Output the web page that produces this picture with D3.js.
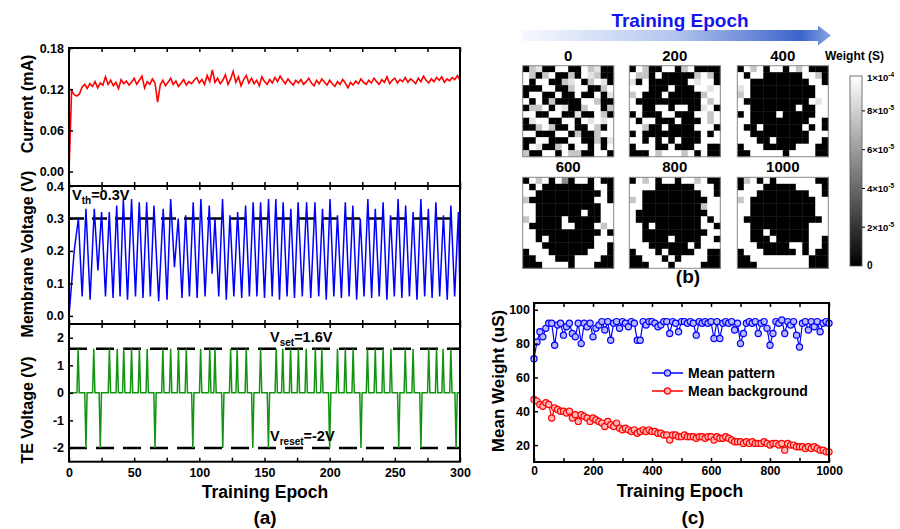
<!DOCTYPE html>
<html>
<head>
<meta charset="utf-8">
<script src="https://cdn.jsdelivr.net/npm/d3@7"></script>
<style>
body { margin: 0; background: #fff; }
text { font-family: "Liberation Sans", Arial, sans-serif; font-weight: bold; }
</style>
</head>
<body>
<svg id="fig" width="900" height="529"></svg>
<script>
// ---------- panel (a) data ----------
// current (mA), one value every 2 epochs from 0 to 300
const currentVals = [
  0.000,0.118,0.112,0.110,0.113,0.123,0.127,0.121,0.128,0.124,
  0.131,0.122,0.129,0.126,0.138,0.127,0.133,0.125,0.130,0.121,
  0.134,0.128,0.132,0.126,0.130,0.136,0.127,0.133,0.139,0.122,
  0.131,0.127,0.135,0.129,0.101,0.126,0.133,0.125,0.130,0.136,
  0.127,0.132,0.124,0.129,0.134,0.126,0.131,0.128,0.133,0.137,
  0.129,0.134,0.127,0.140,0.131,0.148,0.130,0.136,0.128,0.133,
  0.141,0.127,0.135,0.146,0.130,0.138,0.125,0.134,0.140,0.129,
  0.136,0.128,0.133,0.125,0.138,0.131,0.127,0.134,0.129,0.137,
  0.131,0.139,0.133,0.128,0.135,0.130,0.126,0.133,0.129,0.134,
  0.127,0.131,0.136,0.129,0.125,0.133,0.128,0.135,0.130,0.126,
  0.133,0.128,0.124,0.131,0.127,0.134,0.129,0.122,0.130,0.126,
  0.132,0.128,0.135,0.130,0.127,0.133,0.129,0.136,0.131,0.127,
  0.134,0.130,0.138,0.128,0.133,0.136,0.129,0.134,0.131,0.137,
  0.130,0.135,0.132,0.128,0.136,0.131,0.139,0.133,0.129,0.135,
  0.131,0.137,0.133,0.138,0.130,0.135,0.132,0.137,0.134,0.140,
  0.133
];
const currentStep = 2;

// membrane voltage (V): turning points [epoch, value]
const memPts = [
  [0,0.00],[1,0.05],[4,0.20],[7.2,0.30],[10.1,0.06],[13,0.33],[16.2,0.05],[19.4,0.33],
  [22.2,0.14],[25,0.32],[28,0.06],[30.9,0.32],[33.8,0.055],[36.6,0.34],[39.2,0.06],
  [41.7,0.36],[44.9,0.05],[48,0.36],[51,0.06],[53.9,0.35],[56.8,0.055],[59.6,0.35],
  [62.4,0.06],[65.2,0.34],[68.8,0.045],[72.3,0.33],[75.2,0.05],[78,0.36],[80.9,0.15],
  [83.8,0.30],[86.7,0.055],[89.5,0.31],[92.4,0.06],[95.3,0.35],[98.3,0.055],[101.2,0.36],
  [104.4,0.06],[107.6,0.34],[109.8,0.13],[112,0.30],[114.9,0.06],[117.8,0.36],[120.7,0.05],
  [123.5,0.31],[126.5,0.06],[129.4,0.32],[132.5,0.055],[135.5,0.34],[138.4,0.06],
  [141.3,0.35],[144.2,0.06],[147,0.35],[150,0.055],[153.1,0.36],[155.9,0.06],[158.7,0.36],
  [161.5,0.05],[164.3,0.35],[167.3,0.06],[170.2,0.33],[173,0.055],[175.8,0.35],[179,0.06],
  [182.3,0.35],[185.5,0.055],[188.7,0.35],[191.6,0.06],[194.5,0.33],[197.4,0.05],
  [200.3,0.36],[203.2,0.06],[206,0.31],[209,0.055],[212,0.35],[214.9,0.06],[217.8,0.34],
  [220.7,0.05],[223.5,0.30],[226.4,0.06],[229.3,0.36],[232.2,0.055],[235,0.33],[238,0.06],
  [241,0.35],[243.9,0.05],[246.7,0.31],[249.6,0.06],[252.5,0.36],[255.4,0.055],[258.3,0.34],
  [261.2,0.06],[264,0.32],[267,0.05],[270,0.36],[272.9,0.06],[275.7,0.33],[278.6,0.055],
  [281.5,0.35],[284.4,0.06],[287.3,0.31],[290.2,0.05],[293,0.34],[295.9,0.06],[298.8,0.32],
  [300,0.06]
];
const vth = 0.3;

// TE voltage: epochs of set pulses (1.6 V) and reset pulses (-2 V)
const setEpochs = [7,19,31,37,42,48,54,60,72,78,84,90,101,108,112,124,129,136,147,159,164,
  170,176,182,189,194,206,212,218,229,235,241,247,258,264,276,282,287,293];
const resetEpochs = [13,24,66,95,118,141,153,200,224,253,270,297];
const vset = 1.6, vreset = -2;

// ---------- panel (b) data ----------
const gridEpochs = ["0","200","400","600","800","1000"];
// 14x14 weights, digit d -> d/9 * 1e-4 S
const grid0 = [
  "07800990097800","97079007098700","90990078907980","00099007990079",
  "09900900900908","90907000099700","07790980079907","99009900800970",
  "08990099098989","00797009009709","99000990700799","00990009900708",
  "09800790990909","70099097700990"];
const grid200 = [
  "09700990790000","97709000007970","80900000098990","99900090009989",
  "79000900000799","90000000000979","99009909900890","09000990009979",
  "90990009000979","99700900009990","09000000000909","99090909000999",
  "09990090009900","00097999790900"];
const grid400 = [
  "09790990979000","90990000009970","99000000000990","89000000000099",
  "79000000000099","90000000000989","99000000090099","09000090000099",
  "99000000000990","90090000009090","99000000000999","99900900000990",
  "09990000099900","00999990999900"];
const grid600 = [
  "09790950990900","90900000000990","99000000000090","70000000000990",
  "99000000000099","99000000090099","79000090000099","90000099000979",
  "99000000000090","99090000000999","99900000000990","09990000009990",
  "00999000999900","00099990999000"];
const grid800 = [
  "09790990997900","99990000009990","99000000000990","79000000000099",
  "99000000000799","90000000000099","90000000000909","99090000000990",
  "99000000000099","99000090000990","99900000090999","09990900009900",
  "00999090999900","00099909999000"];
const grid1000 = [
  "07909099999900","09990000099990","99900000000990","79000000000099",
  "99000000000099","99000000000099","90000000000009","99000000000999",
  "99009000000999","99000900000990","99900000990990","09990000090900",
  "00999999999000","00099999999000"];
const cbTicks = [2e-5, 4e-5, 6e-5, 8e-5];

// ---------- panel (c) data ----------
const weightEpochs = d3.range(0, 1001, 10);
const meanPattern = [
  71,81,87,84,89,92,92,79,91,92, 85,90,92,86,84,92,80,92,90,92,
  84,89,91,93,88,93,82,92,93,89, 93,92,90,93,92,82,82,93,91,93,
  93,92,90,91,93,93,86,93,92,87, 93,93,92,93,92,85,93,92,93,92,
  93,83,93,83,92,93,92,93,88,92, 80,86,92,93,92,93,86,92,93,89,
  79,86,93,92,94,86,93,91,93,85, 78,92,93,88,93,90,93,87,92,93,
  92];
const meanBackground = [
  47,46,44,43,45,44,36,42,41,40, 40,39,40,36,38,34,38,37,36,34,
  36,35,34,33,31,34,32,31,33,30, 29,30,29,28,29,27,28,29,28,29,
  28,28,27,27,26,26,23,26,26,25, 25,26,25,25,25,24,25,25,24,25,
  25,23,25,24,24,25,24,23,22,22, 22,21,22,21,22,21,21,21,22,21,
  20,21,21,20,21,17,21,20,20,19, 19,19,18,19,18,19,18,17,17,16,
  16];

// ---------------------------------------------------------------
const svg = d3.select("#fig");
svg.append("rect").attr("width", 900).attr("height", 529).attr("fill", "#fff");
const FONT = "Liberation Sans, Arial, sans-serif";

function styleAxis(g, fs) {
  g.attr("font-family", FONT).attr("font-size", fs).attr("font-weight", "bold");
  g.select(".domain").remove();
  g.selectAll("line").attr("stroke", "#000").attr("stroke-width", 1.5);
  g.selectAll("text").attr("fill", "#000");
}

// ---------- panel (a) ----------
const xA = d3.scaleLinear().domain([0, 300]).range([69, 460]);
const subs = [
  {y: d3.scaleLinear().domain([-0.021, 0.18]).range([186, 48]), ticks: [0, 0.06, 0.12, 0.18],
   fmt: d3.format(".2f"), label: "Current (mA)", ly: 104},
  {y: d3.scaleLinear().domain([-0.025, 0.4]).range([324, 186]), ticks: [0, 0.1, 0.2, 0.3, 0.4],
   fmt: d3.format(".1f"), label: "Membrane Voltage (V)", ly: 254},
  {y: d3.scaleLinear().domain([-2.5, 2.5]).range([461.7, 324]), ticks: [-2, -1, 0, 1, 2],
   fmt: d => String(d), label: "TE Voltage (V)", ly: 410}
];
const xTicksA = d3.range(0, 301, 25);

// data lines
const curPts = currentVals.map((v, i) => [i * currentStep, v]);
svg.append("path")
  .attr("d", d3.line().x(d => xA(d[0])).y(d => subs[0].y(d[1]))(curPts))
  .attr("fill", "none").attr("stroke", "#ff0000").attr("stroke-width", 1.6);

svg.append("line")
  .attr("x1", xA(0)).attr("x2", xA(300))
  .attr("y1", subs[1].y(vth)).attr("y2", subs[1].y(vth))
  .attr("stroke", "#000").attr("stroke-width", 2.5).attr("stroke-dasharray", "15,8");
svg.append("path")
  .attr("d", d3.line().x(d => xA(d[0])).y(d => subs[1].y(d[1]))(memPts))
  .attr("fill", "none").attr("stroke", "#0000ff").attr("stroke-width", 1.5);

[vset, vreset].forEach(v => {
  svg.append("line")
    .attr("x1", xA(0)).attr("x2", xA(300))
    .attr("y1", subs[2].y(v)).attr("y2", subs[2].y(v))
    .attr("stroke", "#000").attr("stroke-width", 2.5).attr("stroke-dasharray", "18,9");
});
const teEvents = setEpochs.map(e => [e, vset]).concat(resetEpochs.map(e => [e, vreset]))
  .sort((a, b) => a[0] - b[0]);
const tePts = [[0, 0]];
teEvents.forEach(ev => { tePts.push([ev[0] - 0.9, 0], ev, [ev[0] + 0.9, 0]); });
tePts.push([300, 0]);
svg.append("path")
  .attr("d", d3.line().x(d => xA(d[0])).y(d => subs[2].y(d[1]))(tePts))
  .attr("fill", "none").attr("stroke", "#129412").attr("stroke-width", 1.5);

subs.forEach((s, k) => {
  const [yb, yt] = s.y.range();
  let g = svg.append("g").attr("transform", `translate(${xA(0)},0)`)
    .call(d3.axisLeft(s.y).tickValues(s.ticks).tickFormat(s.fmt).tickSize(-4).tickPadding(5));
  styleAxis(g, 12.5);
  g = svg.append("g").attr("transform", `translate(0,${yt})`)
    .call(d3.axisTop(xA).tickValues(xTicksA).tickSize(-4).tickFormat(""));
  styleAxis(g, 12);
  g = svg.append("g").attr("transform", `translate(0,${yb})`)
    .call(d3.axisBottom(xA).tickValues(xTicksA).tickSize(-4).tickPadding(6)
      .tickFormat(d => (k === 2 && d % 50 === 0) ? d : ""));
  styleAxis(g, 12.5);
  svg.append("rect").attr("x", xA(0)).attr("y", yt)
    .attr("width", xA(300) - xA(0)).attr("height", yb - yt)
    .attr("fill", "none").attr("stroke", "#000").attr("stroke-width", 2);
  svg.append("text").attr("transform", `translate(33,${s.ly}) rotate(-90)`)
    .attr("text-anchor", "middle").attr("font-size", 16).text(s.label);
});

function subLabel(x, y, main, sub, rest) {
  const t = svg.append("text").attr("x", x).attr("y", y).attr("font-size", 14.5);
  t.append("tspan").text(main);
  t.append("tspan").attr("font-size", 10).attr("dy", 4).text(sub);
  t.append("tspan").attr("dy", -4).text(rest);
}
subLabel(72, 200, "V", "th", "=0.3V");
subLabel(270, 342, "V", "set", "=1.6V");
subLabel(270, 441, "V", "reset", "=-2V");

svg.append("text").attr("x", 265).attr("y", 498).attr("text-anchor", "middle")
  .attr("font-size", 17.5).text("Training Epoch");
svg.append("text").attr("x", 265).attr("y", 524).attr("text-anchor", "middle")
  .attr("font-size", 19).text("(a)");

// ---------- panel (b) ----------
const defs = svg.append("defs");
const ag = defs.append("linearGradient").attr("id", "arrowGrad");
ag.append("stop").attr("offset", "0").attr("stop-color", "#f7f9fe");
ag.append("stop").attr("offset", "0.5").attr("stop-color", "#b3c5ee");
ag.append("stop").attr("offset", "0.9").attr("stop-color", "#3b63c9");
ag.append("stop").attr("offset", "1").attr("stop-color", "#88a6e6");
svg.append("path")
  .attr("d", "M522,30 L818,30 L818,25.5 L831,35.5 L818,45.5 L818,41 L522,41 Z")
  .attr("fill", "url(#arrowGrad)");
svg.append("text").attr("x", 680).attr("y", 27).attr("text-anchor", "middle")
  .attr("font-size", 19).attr("fill", "#1414f0").text("Training Epoch");

const grids = [grid0, grid200, grid400, grid600, grid800, grid1000];
const gridX = [522.7, 629.3, 737.3];
const gridY = [65.7, 177.3];
const gridSize = 91;
const wColor = d3.scaleLinear().domain([0, 1e-4]).range(["#000000", "#ffffff"]).clamp(true);
const cellIdx = d3.range(14);

grids.forEach((rows, gi) => {
  const gx = gridX[gi % 3], gy = gridY[Math.floor(gi / 3)];
  const bx = d3.scaleBand().domain(cellIdx).range([gx, gx + gridSize]);
  const by = d3.scaleBand().domain(cellIdx).range([gy, gy + gridSize]);
  const cells = [];
  rows.forEach((r, i) => r.split("").forEach((c, j) => cells.push({i, j, w: (+c) / 9 * 1e-4})));
  svg.append("g").selectAll("rect").data(cells).join("rect")
    .attr("x", d => bx(d.j)).attr("y", d => by(d.i))
    .attr("width", bx.bandwidth() + 0.4).attr("height", by.bandwidth() + 0.4)
    .attr("fill", d => wColor(d.w));
  svg.append("rect").attr("x", gx).attr("y", gy).attr("width", gridSize).attr("height", gridSize)
    .attr("fill", "none").attr("stroke", "#888").attr("stroke-width", 1);
  svg.append("text").attr("x", gx + gridSize / 2).attr("y", gy - 5)
    .attr("text-anchor", "middle").attr("font-size", 15).text(gridEpochs[gi]);
});
svg.append("text").attr("x", 688).attr("y", 283).attr("text-anchor", "middle")
  .attr("font-size", 19).text("(b)");

// colorbar
const cbGrad = defs.append("linearGradient").attr("id", "cbGrad")
  .attr("x1", 0).attr("y1", 1).attr("x2", 0).attr("y2", 0);
cbGrad.append("stop").attr("offset", "0").attr("stop-color", "#000");
cbGrad.append("stop").attr("offset", "1").attr("stop-color", "#fff");
const cbY = d3.scaleLinear().domain([0, 9.8e-5]).range([266, 76]);
svg.append("rect").attr("x", 850).attr("y", 76).attr("width", 12).attr("height", 190)
  .attr("fill", "url(#cbGrad)").attr("stroke", "#555").attr("stroke-width", 0.8);
svg.append("text").attr("x", 825).attr("y", 60).attr("font-size", 12).text("Weight (S)");

function sciLabel(y, mant, exp) {
  const t = svg.append("text").attr("x", 867).attr("y", y + 3.5).attr("font-size", 9.5)
    .attr("font-weight", "normal");
  t.append("tspan").text(mant + "\u00d710");
  t.append("tspan").attr("font-size", 6.5).attr("dy", -4).text(exp);
}
cbTicks.forEach(v => {
  const y = cbY(v);
  svg.append("line").attr("x1", 862).attr("x2", 865).attr("y1", y).attr("y2", y)
    .attr("stroke", "#000").attr("stroke-width", 1);
  sciLabel(y, Math.round(v * 1e5), "-5");
});
sciLabel(cbY(9.8e-5) + 1, "1", "-4");
svg.append("text").attr("x", 867).attr("y", 269).attr("font-size", 10).text("0");

// ---------- panel (c) ----------
const xC = d3.scaleLinear().domain([0, 1000]).range([534, 829]);
const yC = d3.scaleLinear().domain([10, 104]).range([462, 303]);
const series = [
  {vals: meanPattern, color: "#0000ff", fill: "#b8b8ff", name: "Mean pattern"},
  {vals: meanBackground, color: "#ff0000", fill: "#ffb8b8", name: "Mean background"}
];
series.forEach(s => {
  const pts = weightEpochs.map((e, i) => [e, s.vals[i]]);
  svg.append("path").attr("d", d3.line().x(d => xC(d[0])).y(d => yC(d[1]))(pts))
    .attr("fill", "none").attr("stroke", s.color).attr("stroke-width", 1.2);
  svg.append("g").selectAll("circle").data(pts).join("circle")
    .attr("cx", d => xC(d[0])).attr("cy", d => yC(d[1])).attr("r", 3.1)
    .attr("fill", s.fill).attr("stroke", s.color).attr("stroke-width", 1.2);
});
let gc = svg.append("g").attr("transform", "translate(534,0)")
  .call(d3.axisLeft(yC).tickValues([20, 40, 60, 80, 100]).tickSize(-4).tickPadding(4));
styleAxis(gc, 12.5);
gc = svg.append("g").attr("transform", "translate(0,462)")
  .call(d3.axisBottom(xC).tickValues(d3.range(0, 1001, 100)).tickSize(-4).tickPadding(4)
    .tickFormat(d => d % 200 === 0 ? d : ""));
styleAxis(gc, 12);
gc = svg.append("g").attr("transform", "translate(0,303)")
  .call(d3.axisTop(xC).tickValues(d3.range(0, 1001, 100)).tickSize(-4).tickFormat(""));
styleAxis(gc, 12);
svg.append("rect").attr("x", 534).attr("y", 303).attr("width", 295).attr("height", 159)
  .attr("fill", "none").attr("stroke", "#000").attr("stroke-width", 2);

series.forEach((s, i) => {
  const y = 373 + i * 18;
  svg.append("line").attr("x1", 652).attr("x2", 683).attr("y1", y).attr("y2", y)
    .attr("stroke", s.color).attr("stroke-width", 1.5);
  svg.append("circle").attr("cx", 667.5).attr("cy", y).attr("r", 3.1)
    .attr("fill", s.fill).attr("stroke", s.color).attr("stroke-width", 1.2);
  svg.append("text").attr("x", 688).attr("y", y + 5).attr("font-size", 14).text(s.name);
});

svg.append("text").attr("transform", "translate(504,381) rotate(-90)")
  .attr("text-anchor", "middle").attr("font-size", 17).text("Mean Weight (uS)");
svg.append("text").attr("x", 680).attr("y", 497).attr("text-anchor", "middle")
  .attr("font-size", 17.5).text("Training Epoch");
svg.append("text").attr("x", 693).attr("y", 524).attr("text-anchor", "middle")
  .attr("font-size", 19).text("(c)");
</script>
</body>
</html>
